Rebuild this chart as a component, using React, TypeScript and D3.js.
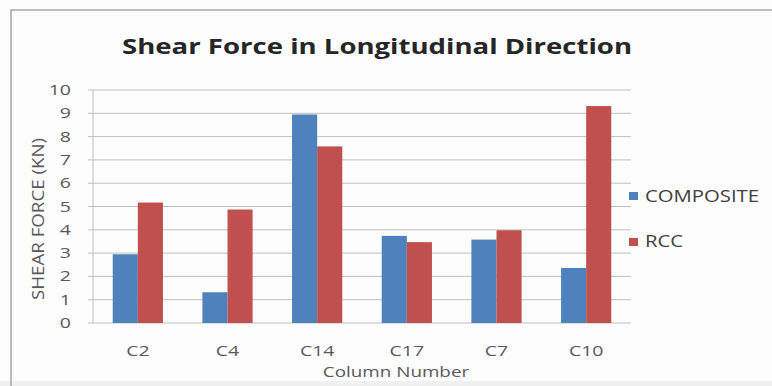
import React from "react";
import * as d3 from "d3";

const categories = ["C2", "C4", "C14", "C17", "C7", "C10"];
const seriesNames = ["COMPOSITE", "RCC"];
const composite = [2.95, 1.32, 8.95, 3.74, 3.58, 2.36];
const rcc = [5.17, 4.87, 7.58, 3.47, 3.98, 9.31];
const yTicks = [0, 1, 2, 3, 4, 5, 6, 7, 8, 9, 10];
const colors = ["#4F81BD", "#C0504D"];

const W = 772;
const H = 386;
const plot = { left: 93, right: 631, top: 90, bottom: 323 };
const SX = 1.3;

function WideText(props: { x: number; y: number; anchor: string; size: number; fill: string; sx?: number; children: React.ReactNode }) {
  const { x, y, anchor, size, fill, sx = SX, children } = props;
  return (
    <text transform={`translate(${x},${y}) scale(${sx},1)`} textAnchor={anchor} fontSize={size} fill={fill}>
      {children}
    </text>
  );
}

export default function App() {
  const x = d3.scaleBand().domain(categories).range([plot.left, plot.right]).paddingInner(0.44).paddingOuter(0.22);
  const xs = d3.scaleBand().domain(seriesNames).range([0, x.bandwidth()]);
  const y = d3.scaleLinear().domain([0, 10]).range([plot.bottom, plot.top]);
  const series = [composite, rcc];
  const font = "'Open Sans', 'DejaVu Sans', sans-serif";
  return (
    <svg width={W} height={H} style={{ position: "absolute", left: 0, top: 0, background: "#fff" }} fontFamily={font}>
      <rect x={0} y={0} width={W} height={H} fill="#fdfdfd" />
      <rect x={0} y={381} width={W} height={5} fill="#f0f0f0" />
      <path d={`M11,${H} V10 H${W}`} fill="none" stroke="#a8a8a8" strokeWidth={1.5} />
      <text x={377} y={54} textAnchor="middle" fontSize={22} fontWeight={700} fill="#262626" textLength={510} lengthAdjust="spacingAndGlyphs">
        Shear Force in Longitudinal Direction
      </text>
      {yTicks.map((t) => (
        <g key={t}>
          <line x1={plot.left - 5} x2={plot.right} y1={y(t)} y2={y(t)} stroke="#bfbfbf" strokeWidth={1} />
          <WideText x={71} y={y(t) + 5} anchor="end" size={15} fill="#595959">{t}</WideText>
        </g>
      ))}
      <line x1={plot.left} x2={plot.left} y1={plot.top} y2={plot.bottom} stroke="#bfbfbf" />
      {categories.map((c, i) => (
        <g key={c}>
          {series.map((s, j) => (
            <rect key={j} x={(x(c) ?? 0) + (xs(seriesNames[j]) ?? 0)} y={y(s[i])} width={xs.bandwidth()} height={y(0) - y(s[i])} fill={colors[j]} />
          ))}
          <WideText x={(x(c) ?? 0) + x.bandwidth() / 2} y={356} anchor="middle" size={15} fill="#595959">{c}</WideText>
        </g>
      ))}
      <WideText x={396} y={377} anchor="middle" size={14.5} fill="#595959">Column Number</WideText>
      <text transform={`translate(44,219) rotate(-90)`} textAnchor="middle" fontSize={16} fill="#595959" textLength={162} lengthAdjust="spacingAndGlyphs">
        SHEAR  FORCE (KN)
      </text>
      {seriesNames.map((n, j) => (
        <g key={n}>
          <rect x={629} y={192 + j * 46} width={9} height={8} fill={colors[j]} />
          <WideText x={645} y={202 + j * 45} anchor="start" size={16} fill="#404040" sx={1.27}>{n}</WideText>
        </g>
      ))}
    </svg>
  );
}
